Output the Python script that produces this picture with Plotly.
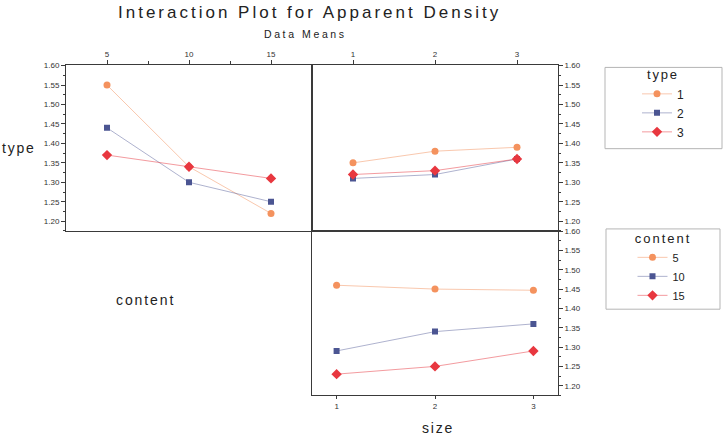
import plotly.graph_objects as go

# ---------------- data ----------------
content_levels = [5, 10, 15]
size_levels = [1, 2, 3]
type_names = ["1", "2", "3"]
content_names = ["5", "10", "15"]

# Means of apparent density: type (series) across content (x)
type1_by_content = [1.55, 1.34, 1.22]
type2_by_content = [1.44, 1.30, 1.25]
type3_by_content = [1.37, 1.34, 1.31]

# type (series) across size (x)
type1_by_size = [1.35, 1.38, 1.39]
type2_by_size = [1.31, 1.32, 1.36]
type3_by_size = [1.32, 1.33, 1.36]

# content (series) across size (x)
content5_by_size = [1.46, 1.45, 1.447]
content10_by_size = [1.29, 1.34, 1.36]
content15_by_size = [1.23, 1.25, 1.29]

y_ticks = [1.20, 1.25, 1.30, 1.35, 1.40, 1.45, 1.50, 1.55, 1.60]

# ---------------- styling ----------------
W, H = 727, 439
def fx(px):
    return px / W
def fy(py):
    return 1 - py / H

marker_cols = ["#F4925E", "#4B5592", "#E8373F"]
line_cols = ["rgba(244,146,94,0.5)", "rgba(75,85,146,0.45)", "rgba(232,55,63,0.5)"]
symbols = ["circle", "square", "diamond"]
msizes = [7, 6, 8]
FONT = "Liberation Sans, Arial, sans-serif"
AXC = "#3a3a3a"

fig = go.Figure()

type_content = [type1_by_content, type2_by_content, type3_by_content]
type_size = [type1_by_size, type2_by_size, type3_by_size]
content_size = [content5_by_size, content10_by_size, content15_by_size]

for i, name in enumerate(type_names):
    fig.add_trace(go.Scatter(
        x=content_levels, y=type_content[i], xaxis="x", yaxis="y",
        mode="lines+markers", name=name, legend="legend", legendgroup="t" + name,
        line=dict(color=line_cols[i], width=1),
        marker=dict(symbol=symbols[i], color=marker_cols[i], size=msizes[i])))
for i, name in enumerate(type_names):
    fig.add_trace(go.Scatter(
        x=size_levels, y=type_size[i], xaxis="x2", yaxis="y2",
        mode="lines+markers", name=name, legendgroup="t" + name, showlegend=False,
        line=dict(color=line_cols[i], width=1),
        marker=dict(symbol=symbols[i], color=marker_cols[i], size=msizes[i])))
for i, name in enumerate(content_names):
    fig.add_trace(go.Scatter(
        x=size_levels, y=content_size[i], xaxis="x3", yaxis="y3",
        mode="lines+markers", name=name, legend="legend2", legendgroup="c" + name,
        line=dict(color=line_cols[i], width=1),
        marker=dict(symbol=symbols[i], color=marker_cols[i], size=msizes[i])))

common = dict(showline=True, linecolor=AXC, linewidth=1, mirror=True,
              ticks="outside", ticklen=4, tickwidth=1, tickcolor=AXC,
              showgrid=False, zeroline=False,
              tickfont=dict(family=FONT, size=8, color="#333"))
yrange = [1.175, 1.6005]
ycommon = dict(common, range=yrange, tickvals=y_ticks, tickformat=".2f",
               minor=dict(dtick=0.025, ticks="outside", ticklen=2, tickcolor=AXC))

fig.update_layout(
    xaxis=dict(common, domain=[fx(66), fx(312)], anchor="y", side="top",
               range=[2.5, 17.5], tickvals=content_levels,
               minor=dict(tickvals=[7.5, 12.5], ticks="outside", ticklen=3, tickcolor=AXC)),
    yaxis=dict(ycommon, domain=[fy(229), fy(62)], anchor="x", side="left"),
    xaxis2=dict(common, domain=[fx(312), fx(558)], anchor="y2", side="top",
                range=[0.5, 3.5], tickvals=size_levels),
    yaxis2=dict(ycommon, domain=[fy(229), fy(62)], anchor="x2", side="right"),
    xaxis3=dict(common, domain=[fx(312), fx(558)], anchor="y3", side="bottom",
                range=[0.75, 3.25], tickvals=size_levels, ticklen=3),
    yaxis3=dict(ycommon, domain=[fy(395), fy(229)], anchor="x3", side="right"),
)

leg_common = dict(xanchor="center", yanchor="top", bgcolor="rgba(0,0,0,0)",
                  borderwidth=0, tracegroupgap=0, itemwidth=30,
                  itemclick=False, itemdoubleclick=False)
fig.update_layout(
    legend=dict(leg_common, x=fx(663), y=fy(59),
                font=dict(family=FONT, size=12, color="#222"),
                title=dict(text='<span style="letter-spacing:1.8px">type</span>',
                           side="top center", font=dict(family=FONT, size=13, color="#222"))),
    legend2=dict(leg_common, x=fx(663), y=fy(224),
                 font=dict(family=FONT, size=11, color="#222"),
                 title=dict(text='<span style="letter-spacing:2px">content</span>',
                            side="top center", font=dict(family=FONT, size=13, color="#222"))),
)

# legend frames
fig.add_shape(type="rect", xref="paper", yref="paper", x0=fx(605), x1=fx(722),
              y0=fy(146), y1=fy(64), line=dict(color="#b5b5b5", width=1))
fig.add_shape(type="rect", xref="paper", yref="paper", x0=fx(606), x1=fx(720),
              y0=fy(308), y1=fy(227), line=dict(color="#b5b5b5", width=1))

def label(text, x, y, size, spacing):
    fig.add_annotation(xref="paper", yref="paper", x=fx(x), y=fy(y),
                       xanchor="center", yanchor="middle", showarrow=False,
                       text='<span style="letter-spacing:%spx">%s</span>' % (spacing, text),
                       font=dict(family=FONT, size=size, color="#222"))

label("Interaction Plot for Apparent Density", 309, 9, 17, 3)
label("Data Means", 305, 30, 10.5, 2.6)
label("type", 19, 145, 14, 1.8)
label("content", 145, 299, 14, 1.9)
label("size", 438, 428, 14, 1.8)

fig.update_layout(width=W, height=H, autosize=False,
                  margin=dict(l=0, r=0, t=0, b=0),
                  paper_bgcolor="white", plot_bgcolor="white",
                  font=dict(family=FONT))

fig.write_html("out.html")
